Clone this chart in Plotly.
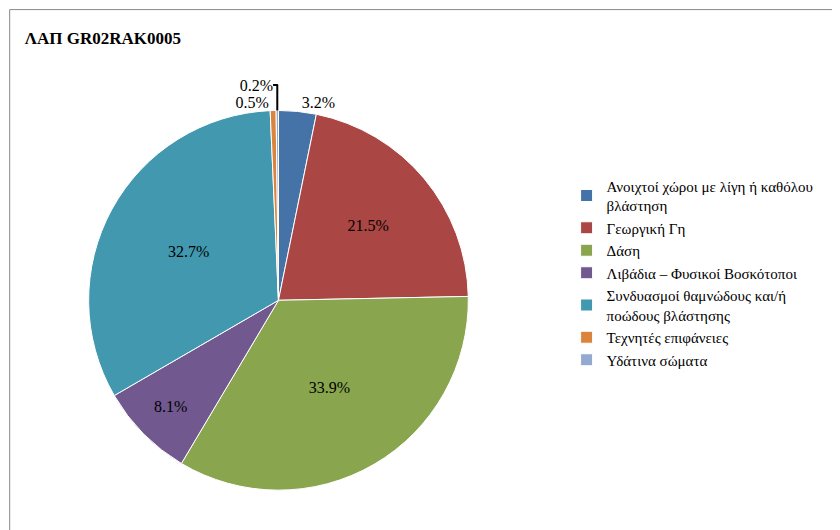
import plotly.graph_objects as go

labels = [
    "Ανοιχτοί χώροι με λίγη ή καθόλου<br>βλάστηση",
    "Γεωργική Γη",
    "Δάση",
    "Λιβάδια – Φυσικοί Βοσκότοποι",
    "Συνδυασμοί θαμνώδους και/ή<br>ποώδους βλάστησης",
    "Τεχνητές επιφάνειες",
    "Υδάτινα σώματα",
]
values = [3.2, 21.5, 33.9, 8.1, 32.7, 0.5, 0.2]
colors = ["#4572A7", "#AA4643", "#89A54E", "#71588F", "#4198AF", "#DB843D", "#93A9CF"]
positions = ["outside", "inside", "inside", "inside", "inside", "outside", "outside"]

fig = go.Figure(go.Pie(
    labels=labels,
    values=values,
    sort=False,
    direction="clockwise",
    rotation=0,
    marker=dict(colors=colors, line=dict(color="white", width=1)),
    texttemplate="%{value:.1f}%",
    textposition=positions,
    textfont=dict(size=16, color="black"),
    insidetextorientation="horizontal",
    domain=dict(x=[0.096, 0.548], y=[0.09, 0.807]),
))

fig.update_layout(
    width=840, height=530,
    margin=dict(l=0, r=0, t=0, b=0),
    paper_bgcolor="white",
    font=dict(family="Liberation Serif", size=15, color="black"),
    title=dict(text="<b>ΛΑΠ GR02RAK0005</b>", x=0.02, y=0.955, xanchor="left",
               font=dict(size=17)),
    legend=dict(x=0.665, y=0.5, yanchor="middle", font=dict(size=15),
                itemwidth=30),
    shapes=[dict(type="rect", xref="paper", yref="paper", x0=0.002, y0=0.003,
                 x1=0.998, y1=0.997, line=dict(color="#888", width=1))],
)

fig.write_html("out.html")
